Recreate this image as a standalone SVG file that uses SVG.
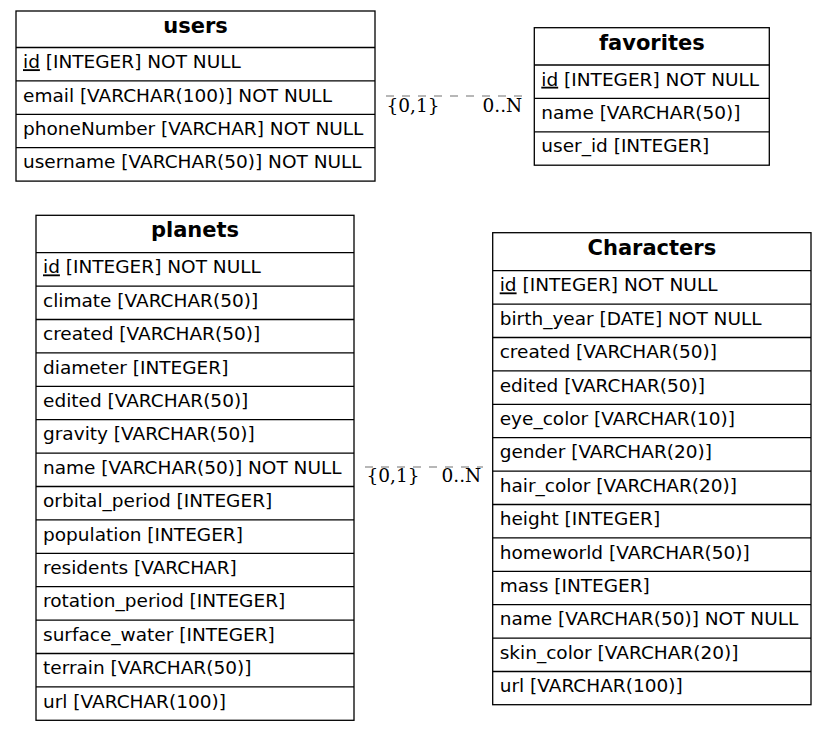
<svg xmlns="http://www.w3.org/2000/svg" width="827" height="731" viewBox="0 0 827 731">
<style>
.box{fill:#fff;stroke:#000;stroke-width:1.3}
.sep{stroke:#000;stroke-width:1.3}
.hd{font-family:"DejaVu Sans",sans-serif;font-weight:bold;font-size:21px;text-anchor:middle;fill:#000}
.f{font-family:"DejaVu Sans",sans-serif;font-size:18.5px;fill:#000}
.pk{text-decoration:underline}
.edge{stroke:#a0a0a0;stroke-width:1.5;stroke-dasharray:8,8;fill:none}
.lbl{font-family:"DejaVu Serif",serif;font-size:18.5px;fill:#000}
</style>
<rect width="827" height="731" fill="#fff"/>
<g id="connectors">
<line class="edge" x1="386" y1="96" x2="522" y2="96"/>
<text class="lbl" x="386.5" y="111.5">{0,1}</text>
<text class="lbl" x="482.5" y="111.5">0..N</text>
<line class="edge" x1="365" y1="467" x2="483" y2="467"/>
<text class="lbl" x="366.5" y="482">{0,1}</text>
<text class="lbl" x="441.5" y="482">0..N</text>
</g>
<g id="users" transform="translate(16,11)">
<rect class="box" x="0" y="0" width="359" height="170.1"/>
<text class="hd" x="179.5" y="22">users</text>
<line class="sep" x1="0" y1="36.5" x2="359" y2="36.5"/>
<line class="sep" x1="0" y1="69.9" x2="359" y2="69.9"/>
<line class="sep" x1="0" y1="103.3" x2="359" y2="103.3"/>
<line class="sep" x1="0" y1="136.7" x2="359" y2="136.7"/>
<text class="f" x="7" y="57.2"><tspan class="pk">id</tspan> [INTEGER] NOT NULL</text>
<text class="f" x="7" y="90.6">email [VARCHAR(100)] NOT NULL</text>
<text class="f" x="7" y="124">phoneNumber [VARCHAR] NOT NULL</text>
<text class="f" x="7" y="157.4">username [VARCHAR(50)] NOT NULL</text>
</g>
<g id="favorites" transform="translate(534.3,27.7)">
<rect class="box" x="0" y="0" width="235" height="137.5"/>
<text class="hd" x="117.5" y="22">favorites</text>
<line class="sep" x1="0" y1="37.3" x2="235" y2="37.3"/>
<line class="sep" x1="0" y1="70.7" x2="235" y2="70.7"/>
<line class="sep" x1="0" y1="104.1" x2="235" y2="104.1"/>
<text class="f" x="7" y="58"><tspan class="pk">id</tspan> [INTEGER] NOT NULL</text>
<text class="f" x="7" y="91.4">name [VARCHAR(50)]</text>
<text class="f" x="7" y="124.8">user_id [INTEGER]</text>
</g>
<g id="planets" transform="translate(36,215.3)">
<rect class="box" x="0" y="0" width="318" height="505"/>
<text class="hd" x="159" y="22">planets</text>
<line class="sep" x1="0" y1="37.4" x2="318" y2="37.4"/>
<line class="sep" x1="0" y1="70.8" x2="318" y2="70.8"/>
<line class="sep" x1="0" y1="104.2" x2="318" y2="104.2"/>
<line class="sep" x1="0" y1="137.6" x2="318" y2="137.6"/>
<line class="sep" x1="0" y1="171" x2="318" y2="171"/>
<line class="sep" x1="0" y1="204.4" x2="318" y2="204.4"/>
<line class="sep" x1="0" y1="237.8" x2="318" y2="237.8"/>
<line class="sep" x1="0" y1="271.2" x2="318" y2="271.2"/>
<line class="sep" x1="0" y1="304.6" x2="318" y2="304.6"/>
<line class="sep" x1="0" y1="338" x2="318" y2="338"/>
<line class="sep" x1="0" y1="371.4" x2="318" y2="371.4"/>
<line class="sep" x1="0" y1="404.8" x2="318" y2="404.8"/>
<line class="sep" x1="0" y1="438.2" x2="318" y2="438.2"/>
<line class="sep" x1="0" y1="471.6" x2="318" y2="471.6"/>
<text class="f" x="7" y="58.1"><tspan class="pk">id</tspan> [INTEGER] NOT NULL</text>
<text class="f" x="7" y="91.5">climate [VARCHAR(50)]</text>
<text class="f" x="7" y="124.9">created [VARCHAR(50)]</text>
<text class="f" x="7" y="158.3">diameter [INTEGER]</text>
<text class="f" x="7" y="191.7">edited [VARCHAR(50)]</text>
<text class="f" x="7" y="225.1">gravity [VARCHAR(50)]</text>
<text class="f" x="7" y="258.5">name [VARCHAR(50)] NOT NULL</text>
<text class="f" x="7" y="291.9">orbital_period [INTEGER]</text>
<text class="f" x="7" y="325.3">population [INTEGER]</text>
<text class="f" x="7" y="358.7">residents [VARCHAR]</text>
<text class="f" x="7" y="392.1">rotation_period [INTEGER]</text>
<text class="f" x="7" y="425.5">surface_water [INTEGER]</text>
<text class="f" x="7" y="458.9">terrain [VARCHAR(50)]</text>
<text class="f" x="7" y="492.3">url [VARCHAR(100)]</text>
</g>
<g id="Characters" transform="translate(492.7,232.7)">
<rect class="box" x="0" y="0" width="318.3" height="472"/>
<text class="hd" x="159.2" y="22">Characters</text>
<line class="sep" x1="0" y1="38" x2="318.3" y2="38"/>
<line class="sep" x1="0" y1="71.4" x2="318.3" y2="71.4"/>
<line class="sep" x1="0" y1="104.8" x2="318.3" y2="104.8"/>
<line class="sep" x1="0" y1="138.2" x2="318.3" y2="138.2"/>
<line class="sep" x1="0" y1="171.6" x2="318.3" y2="171.6"/>
<line class="sep" x1="0" y1="205" x2="318.3" y2="205"/>
<line class="sep" x1="0" y1="238.4" x2="318.3" y2="238.4"/>
<line class="sep" x1="0" y1="271.8" x2="318.3" y2="271.8"/>
<line class="sep" x1="0" y1="305.2" x2="318.3" y2="305.2"/>
<line class="sep" x1="0" y1="338.6" x2="318.3" y2="338.6"/>
<line class="sep" x1="0" y1="372" x2="318.3" y2="372"/>
<line class="sep" x1="0" y1="405.4" x2="318.3" y2="405.4"/>
<line class="sep" x1="0" y1="438.8" x2="318.3" y2="438.8"/>
<text class="f" x="7" y="58.7"><tspan class="pk">id</tspan> [INTEGER] NOT NULL</text>
<text class="f" x="7" y="92.1">birth_year [DATE] NOT NULL</text>
<text class="f" x="7" y="125.5">created [VARCHAR(50)]</text>
<text class="f" x="7" y="158.9">edited [VARCHAR(50)]</text>
<text class="f" x="7" y="192.3">eye_color [VARCHAR(10)]</text>
<text class="f" x="7" y="225.7">gender [VARCHAR(20)]</text>
<text class="f" x="7" y="259.1">hair_color [VARCHAR(20)]</text>
<text class="f" x="7" y="292.5">height [INTEGER]</text>
<text class="f" x="7" y="325.9">homeworld [VARCHAR(50)]</text>
<text class="f" x="7" y="359.3">mass [INTEGER]</text>
<text class="f" x="7" y="392.7">name [VARCHAR(50)] NOT NULL</text>
<text class="f" x="7" y="426.1">skin_color [VARCHAR(20)]</text>
<text class="f" x="7" y="459.5">url [VARCHAR(100)]</text>
</g>
</svg>
